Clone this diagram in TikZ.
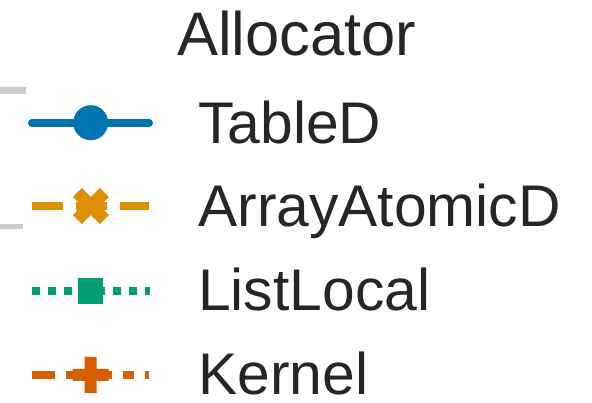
\documentclass[tikz,border=0pt]{standalone}
\usepackage{fontspec}
\setmainfont{Liberation Sans}
\definecolor{cblue}{HTML}{0173B2}
\definecolor{corange}{HTML}{DE8F05}
\definecolor{cgreen}{HTML}{029E73}
\definecolor{cverm}{HTML}{D55E00}
\definecolor{ctext}{HTML}{262626}
\definecolor{cgrid}{HTML}{CCCCCC}
\begin{document}
\begin{tikzpicture}[x=1pt,y=1pt,
  lbl/.style={anchor=base west,inner sep=0pt,text=ctext,font=\fontsize{58.8}{60}\selectfont},
  ttl/.style={anchor=base west,inner sep=0pt,text=ctext,font=\fontsize{61.5}{62}\selectfont},
  legline/.style={line width=7.8pt}]
\useasboundingbox (0,0) rectangle (592,-403);
% grid remnants
\fill[cgrid] (0,-87) rectangle (26,-94);
\fill[cgrid] (0,-224) rectangle (23,-229);
% title
\node[ttl] (title) at (176.8,-56) {Allocator};
% labels
\node[lbl] (l1) at (198,-143.3) {TableD};
\node[lbl] (l2) at (198,-227) {ArrayAtomicD};
\node[lbl] (l3) at (198,-311) {ListLocal};
\node[lbl] (l4) at (198,-395) {Kernel};
% TableD
\draw[legline,cblue,line cap=round] (31.9,-122.7) -- (149.1,-122.7);
\fill[cblue] (90.7,-122.7) circle (17.5);
% ArrayAtomicD
\draw[legline,corange,dash pattern=on 31.2pt off 12.8pt] (31.9,-206) -- (149.1,-206);
\fill[corange,shift={(90.8,-206)},x=9pt,y=9pt]
  (-1,-2) -- (0,-1) -- (1,-2) -- (2,-1) -- (1,0) -- (2,1) -- (1,2) -- (0,1) -- (-1,2) -- (-2,1) -- (-1,0) -- (-2,-1) -- cycle;
% ListLocal
\draw[legline,cgreen,dash pattern=on 8pt off 8.2pt] (31.7,-291) -- (149.6,-291);
\fill[cgreen] (77.7,-278) rectangle (103.3,-303.6);
% Kernel
\draw[legline,cverm,dash pattern=on 23.4pt off 10.7pt on 11.7pt off 10.7pt] (31.9,-375) -- (149.1,-375);
\fill[cverm,shift={(90.5,-375)},x=6pt,y=6pt]
  (-1,-3) -- (1,-3) -- (1,-1) -- (3,-1) -- (3,1) -- (1,1) -- (1,3) -- (-1,3) -- (-1,1) -- (-3,1) -- (-3,-1) -- (-1,-1) -- cycle;
\end{tikzpicture}
\end{document}
